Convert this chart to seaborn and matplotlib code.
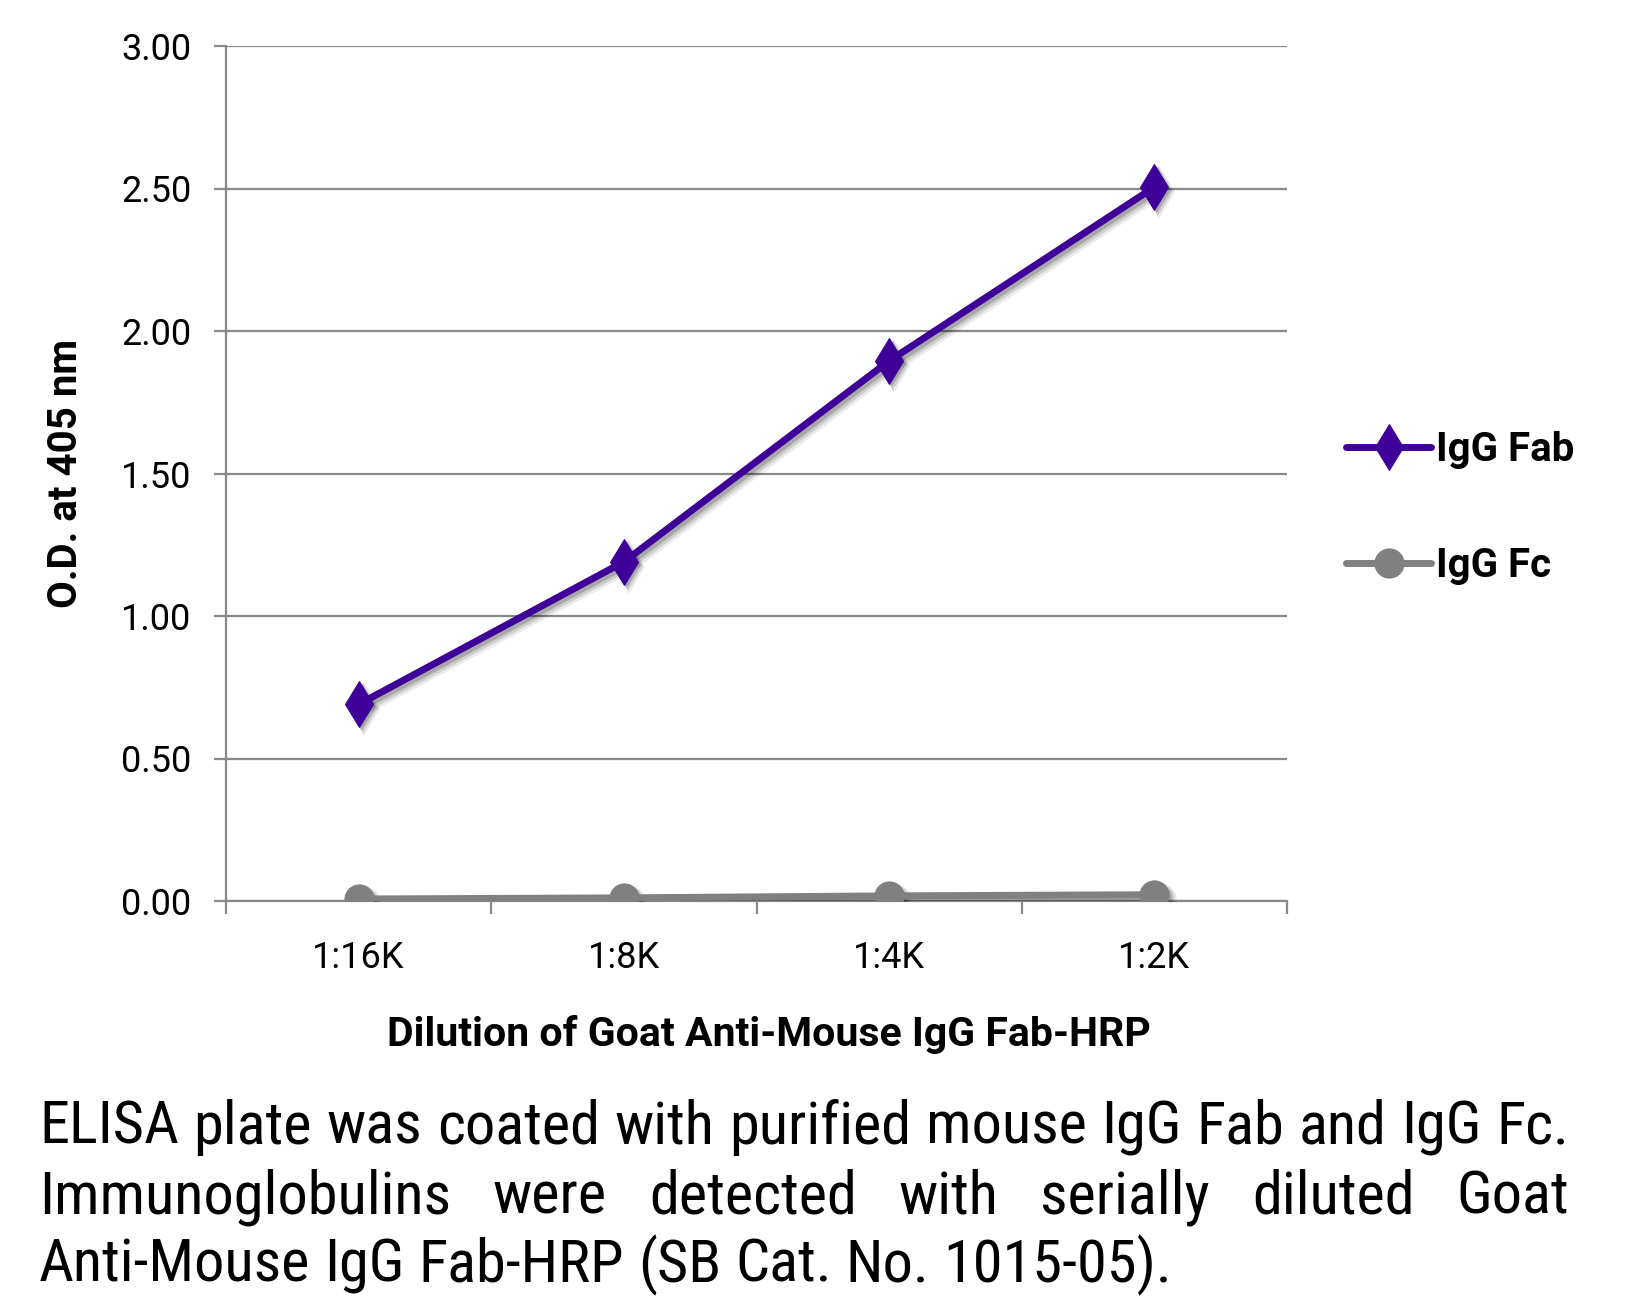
import numpy as np
import pandas as pd
import matplotlib
matplotlib.use('Agg')
import matplotlib.pyplot as plt
import matplotlib.transforms as mtransforms
from matplotlib import font_manager
from matplotlib.ticker import FormatStrFormatter
import seaborn as sns

# Data
dilutions = ['1:16K', '1:8K', '1:4K', '1:2K']
igg_fab = [0.69, 1.19, 1.895, 2.505]
igg_fc = [0.007, 0.011, 0.018, 0.022]
series_names = ['IgG Fab', 'IgG Fc']
y_ticks = [0.0, 0.5, 1.0, 1.5, 2.0, 2.5, 3.0]

caption_lines = [
    'ELISA plate was coated with purified mouse IgG Fab and IgG Fc.',
    'Immunoglobulins were detected with serially diluted Goat',
    'Anti-Mouse IgG Fab-HRP (SB Cat. No. 1015-05).',
]

FAB_COLOR = '#3f0099'
FC_COLOR = '#808080'
GRID_COLOR = '#888888'

W, H = 1626, 1306

sns.set_theme(style='white')
plt.rcParams['font.family'] = ['Roboto', 'DejaVu Sans']
for key in ['text.color', 'axes.labelcolor', 'xtick.color', 'ytick.color']:
    plt.rcParams[key] = 'black'

# a narrower face for the caption, if one is installed
installed = {f.name for f in font_manager.fontManager.ttflist}
cap_family = 'Roboto'
for name in ['Myriad Pro', 'Roboto Condensed', 'Open Sans Condensed', 'DejaVu Sans Condensed']:
    if name in installed:
        cap_family = name
        break

fig = plt.figure(figsize=(W / 100, H / 100), dpi=100)
ax = fig.add_axes([226 / W, 1 - 901 / H, (1287 - 226) / W, (901 - 46) / H])

df = pd.DataFrame({
    'pos': np.tile(np.arange(len(dilutions)), 2),
    'od': igg_fab + igg_fc,
    'series': np.repeat(series_names, len(dilutions)),
})
fab = df[df['series'] == 'IgG Fab']
fc = df[df['series'] == 'IgG Fc']

# soft drop shadow: a few offset grey copies under each series
for dx, lw_extra, alpha in [(5, 4, 0.08), (4, 2, 0.12), (3, 0, 0.18)]:
    shift = mtransforms.ScaledTranslation(dx / 100, -dx / 100, fig.dpi_scale_trans)
    for data, marker, ms in [(fab, 'd', 23), (fc, 'o', 21)]:
        sns.lineplot(data=data, x='pos', y='od', ax=ax, color='black', alpha=alpha,
                     linewidth=5 + lw_extra, marker=marker, markersize=ms + lw_extra,
                     markeredgewidth=0, transform=ax.transData + shift, zorder=3)

sns.lineplot(data=fab, x='pos', y='od', ax=ax,
             color=FAB_COLOR, linewidth=5, marker='d', markersize=23,
             markeredgecolor=FAB_COLOR, label='IgG Fab', zorder=5)
sns.lineplot(data=fc, x='pos', y='od', ax=ax,
             color=FC_COLOR, linewidth=5, marker='o', markersize=21,
             markeredgecolor=FC_COLOR, label='IgG Fc', zorder=5)
for line in ax.lines:
    line.set_solid_capstyle('round')

# Axes styling
ax.set_xlim(-0.5, len(dilutions) - 0.5)
ax.set_ylim(0, 3)
ax.set_yticks(y_ticks)
ax.yaxis.set_major_formatter(FormatStrFormatter('%.2f'))
ax.set_xticks(np.arange(len(dilutions)))
ax.set_xticklabels(dilutions)
ax.set_xticks(np.arange(len(dilutions) + 1) - 0.5, minor=True)

ax.grid(axis='y', color=GRID_COLOR, linewidth=1.6)
ax.grid(axis='x', visible=False)
ax.set_axisbelow(True)
for side in ['top', 'right']:
    ax.spines[side].set_visible(False)
for side in ['left', 'bottom']:
    ax.spines[side].set_color(GRID_COLOR)
    ax.spines[side].set_linewidth(1.6)

ax.tick_params(axis='y', which='major', direction='out', length=9, width=1.6,
               color=GRID_COLOR, labelsize=26, pad=16, left=True)
ax.tick_params(axis='x', which='major', length=0, labelsize=26, pad=28)
ax.tick_params(axis='x', which='minor', direction='out', length=9, width=1.6,
               color=GRID_COLOR, bottom=True)

ax.set_xlabel('Dilution of Goat Anti-Mouse IgG Fab-HRP', fontsize=29.5,
              fontweight='bold', labelpad=28)
ax.xaxis.label.set_x(0.512)
ax.set_ylabel('O.D. at 405 nm', fontsize=29, fontweight='bold', labelpad=26)

leg = ax.legend(loc='center left', bbox_to_anchor=(1310 / W, 1 - 508 / H),
                bbox_transform=fig.transFigure, frameon=False,
                prop={'weight': 'bold', 'size': 29}, handlelength=2.1,
                handletextpad=0.12, labelspacing=1.95)

# Caption, justified like the reference
renderer = fig.canvas.get_renderer()
ident = mtransforms.IdentityTransform()
left_px, right_px = 39, 1569
baselines = [1144, 1213, 1282]


def text_width(s, size):
    t = fig.text(0, 0, s, fontsize=size, family=cap_family, transform=ident)
    w = t.get_window_extent(renderer).width
    t.remove()
    return w


size = 46
while size > 20:
    words = caption_lines[0].split()
    natural = sum(text_width(w, size) for w in words) + \
        (len(words) - 1) * (text_width('x x', size) - text_width('xx', size))
    if natural <= right_px - left_px:
        break
    size -= 0.5

space = text_width('x x', size) - text_width('xx', size)
for i, line_text in enumerate(caption_lines):
    words = line_text.split()
    widths = [text_width(w, size) for w in words]
    if i < len(caption_lines) - 1:
        gap = (right_px - left_px - sum(widths)) / (len(words) - 1)
    else:
        gap = space
    x = left_px
    for w, wd in zip(words, widths):
        fig.text(x, H - baselines[i], w, fontsize=size, family=cap_family,
                 transform=ident, va='baseline', ha='left', color='black')
        x += wd + gap

fig.savefig('out.png', dpi=100)
plt.close(fig)
